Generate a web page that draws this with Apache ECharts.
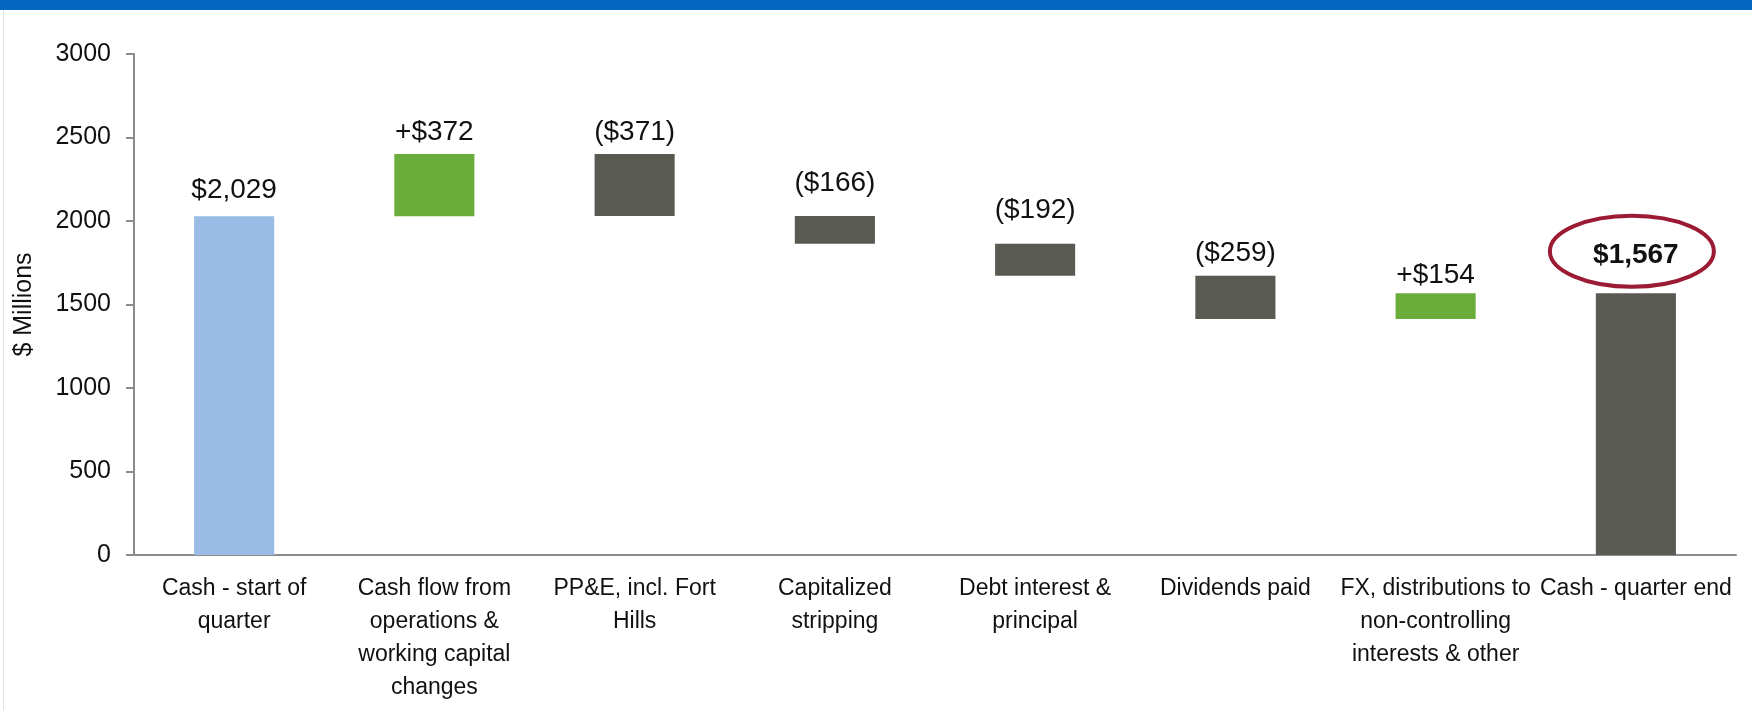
<!DOCTYPE html>
<html>
<head>
<meta charset="utf-8">
<script src="https://cdn.jsdelivr.net/npm/echarts@6/dist/echarts.min.js"></script>
<style>
  html, body { margin: 0; padding: 0; background: #fff; }
  #chart { width: 1752px; height: 710px; }
</style>
</head>
<body>
<div id="chart"></div>
<script>
// 数据
const categories = [
  'Cash - start of\nquarter',
  'Cash flow from\noperations &\nworking capital\nchanges',
  'PP&E, incl. Fort\nHills',
  'Capitalized\nstripping',
  'Debt interest &\nprincipal',
  'Dividends paid',
  'FX, distributions to\nnon-controlling\ninterests & other',
  'Cash - quarter end'
];
const startCash = 2029;
const changes = [372, -371, -166, -192, -259, 154];
const endCash = 1567;
const yTicks = { min: 0, max: 3000, interval: 500 };

// 颜色
const colStart = '#99bce6';
const colUp = '#6aad3b';
const colDown = '#595a51';
const colRing = '#9b1b34';

const fmt = v => '$' + Math.abs(v).toLocaleString('en-US');

// 瀑布图：透明底座 + 可见部分
const base = [0];
const shown = [startCash];
const colors = [colStart];
const labels = [fmt(startCash)];
let run = startCash;
changes.forEach(c => {
  if (c >= 0) {
    base.push(run);
    shown.push(c);
    colors.push(colUp);
    labels.push('+' + fmt(c));
  } else {
    base.push(run + c);
    shown.push(-c);
    colors.push(colDown);
    labels.push('(' + fmt(c) + ')');
  }
  run += c;
});
base.push(0);
shown.push(endCash);
colors.push(colDown);
labels.push(fmt(endCash));

// 标签离柱顶的距离（参照原图）
const labelGap = [12, 8, 8, 19, 19, 8, 4, 24];

const chart = echarts.init(document.getElementById('chart'));
chart.setOption({
  animation: false,
  textStyle: { fontFamily: "'Liberation Sans', Arial, sans-serif" },
  grid: { left: 134, right: 16, top: 54, bottom: 155 },
  xAxis: {
    type: 'category',
    data: categories,
    axisLine: { lineStyle: { color: '#8c8c8c', width: 2 } },
    axisTick: { length: 8, lineStyle: { color: '#8c8c8c', width: 2 } },
    axisLabel: {
      interval: 0,
      margin: 17,
      color: '#111',
      fontSize: 23,
      lineHeight: 33
    }
  },
  yAxis: {
    type: 'value',
    min: yTicks.min,
    max: yTicks.max,
    interval: yTicks.interval,
    name: '$ Millions',
    nameLocation: 'middle',
    nameRotate: 90,
    nameGap: 97,
    nameTextStyle: { fontSize: 25, color: '#111' },
    axisLine: { show: true, lineStyle: { color: '#8c8c8c', width: 2 } },
    axisTick: { show: true, length: 8, lineStyle: { color: '#8c8c8c', width: 2 } },
    axisLabel: { margin: 23, color: '#111', fontSize: 25, formatter: v => String(v) },
    splitLine: { show: false }
  },
  series: [
    {
      type: 'bar',
      stack: 'wf',
      data: base,
      itemStyle: { color: 'transparent' },
      silent: true
    },
    {
      type: 'bar',
      stack: 'wf',
      barWidth: '40%',
      data: shown.map((v, i) => ({
        value: v,
        itemStyle: { color: colors[i] },
        label: {
          show: true,
          position: 'top',
          distance: labelGap[i],
          formatter: labels[i],
          fontSize: 28,
          color: '#111',
          fontWeight: i === shown.length - 1 ? 'bold' : 'normal'
        }
      }))
    }
  ]
});

// 期末现金的红色椭圆
const last = shown.length - 1;
const p = chart.convertToPixel({ xAxisIndex: 0, yAxisIndex: 0 }, [last, endCash]);
chart.setOption({
  graphic: [
    { type: 'rect', left: 0, top: 0, shape: { width: 1752, height: 10 }, style: { fill: '#0467bf' }, silent: true },
    { type: 'rect', left: 3, top: 10, shape: { width: 1, height: 700 }, style: { fill: '#e3e3e3' }, silent: true },
    {
      type: 'ellipse',
      shape: { cx: p[0] - 4, cy: p[1] - 42, rx: 82, ry: 35.5 },
      style: { fill: 'none', stroke: colRing, lineWidth: 4 },
      silent: true
    }
  ]
});
</script>
</body>
</html>
